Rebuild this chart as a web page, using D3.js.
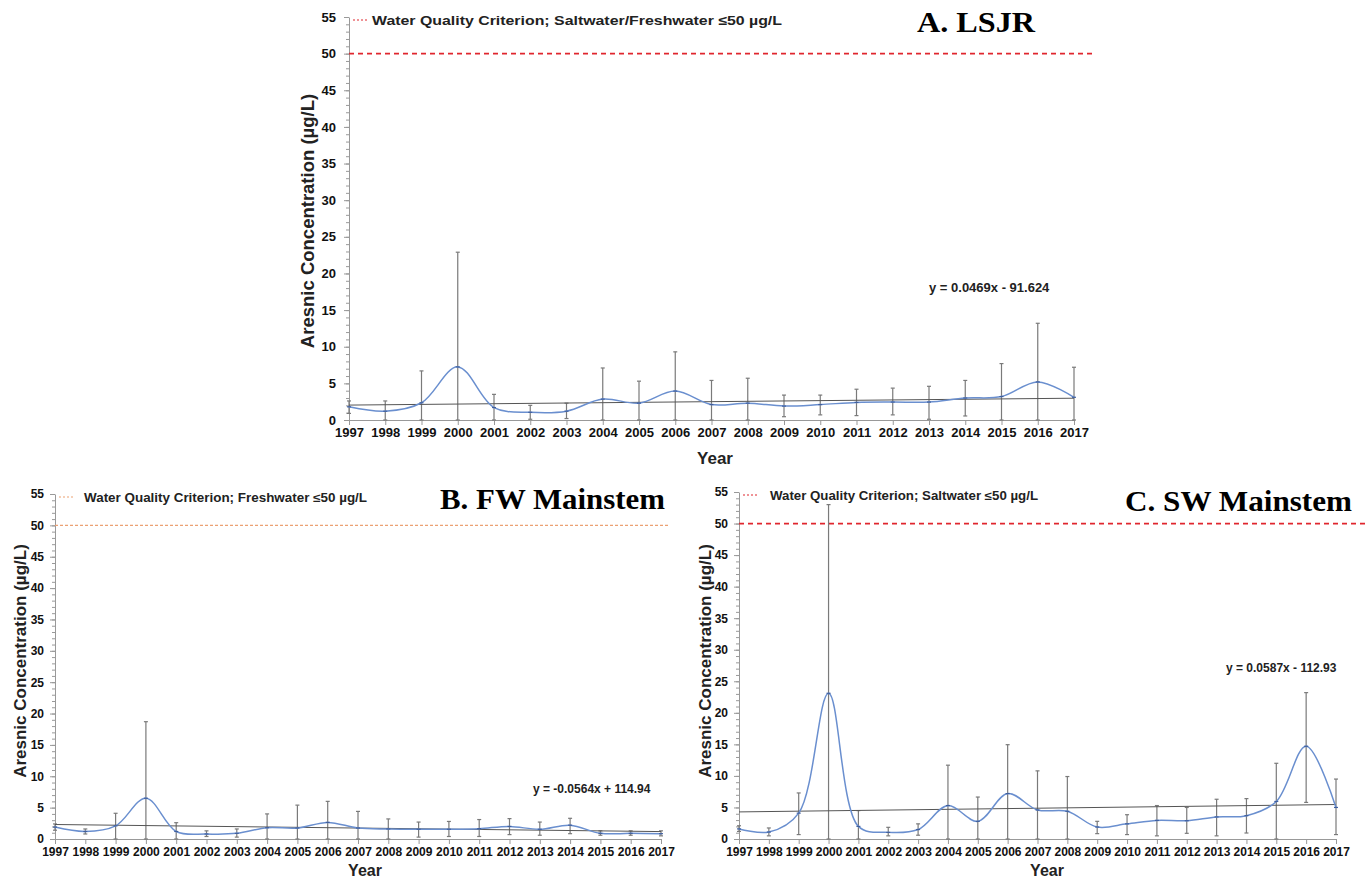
<!DOCTYPE html>
<html>
<head>
<meta charset="utf-8">
<script src="https://cdn.jsdelivr.net/npm/d3@7"></script>
<style>
  html, body { margin: 0; padding: 0; background: #fff; }
  svg { display: block; }
  .tick text { font-family: "Liberation Sans", Arial, sans-serif; font-weight: bold; fill: #111; }
</style>
</head>
<body>
<svg id="chart" width="1372" height="882"></svg>
<script>
// Sampling years
const years = d3.range(1997, 2018);
const yTicks = [0, 5, 10, 15, 20, 25, 30, 35, 40, 45, 50, 55];

// A. LSJR annual means and error-bar limits (µg/L)
const lsjrMean = [1.8, 1.2, 2.35, 7.25, 1.7, 1.05, 1.2, 2.85, 2.3, 3.95, 2.1, 2.3, 1.9, 2.1, 2.4, 2.45, 2.45, 3.0, 3.2, 5.2, 3.1];
const lsjrHigh = [2.6, 2.6, 6.7, 22.9, 3.5, 2.0, 2.3, 7.1, 5.3, 9.3, 5.4, 5.7, 3.4, 3.4, 4.2, 4.35, 4.6, 5.4, 7.7, 13.2, 7.2];
const lsjrLow  = [0.9, 0.0, 0.0, 0.0, 0.0, 0.1, 0.2, 0.0, 0.0, 0.0, 0.0, 0.0, 0.45, 0.7, 0.6, 0.7, 0.1, 0.55, 0.0, 0.0, 0.0];
const lsjrTrend = { slope: 0.0469, intercept: -91.624, label: "y = 0.0469x - 91.624" };

// B. Freshwater mainstem
const fwMean = [1.9, 1.2, 2.1, 6.5, 1.2, 0.8, 0.9, 1.8, 1.75, 2.65, 1.75, 1.6, 1.55, 1.55, 1.65, 2.0, 1.55, 2.2, 0.9, 0.9, 0.85];
const fwHigh = [2.4, 1.6, 4.1, 18.7, 2.6, 1.3, 1.6, 4.0, 5.4, 6.0, 4.4, 3.2, 2.7, 2.8, 3.1, 3.25, 2.7, 3.3, 1.3, 1.3, 1.3];
const fwLow  = [1.4, 0.8, 0.0, 0.0, 0.0, 0.4, 0.3, 0.0, 0.0, 0.0, 0.0, 0.0, 0.3, 0.4, 0.4, 0.7, 0.6, 0.85, 0.6, 0.6, 0.5];
const fwTrend = { slope: -0.0564, intercept: 114.94, label: "y = -0.0564x + 114.94" };

// C. Saltwater mainstem
const swMean = [1.6, 1.1, 4.1, 23.1, 2.0, 1.05, 1.5, 5.3, 2.8, 7.2, 4.6, 4.4, 1.9, 2.4, 2.95, 2.9, 3.5, 3.7, 5.95, 14.7, 5.0];
const swHigh = [2.1, 1.75, 7.3, 53.0, 4.5, 1.85, 2.4, 11.7, 6.65, 14.95, 10.8, 9.9, 2.8, 3.85, 5.3, 5.0, 6.3, 6.4, 12.0, 23.2, 9.5];
const swLow  = [1.2, 0.5, 0.7, 0.0, 0.0, 0.5, 0.6, 0.0, 0.0, 0.0, 0.0, 0.0, 0.85, 0.7, 0.5, 0.9, 0.5, 0.95, 0.0, 5.8, 0.7];
const swTrend = { slope: 0.0587, intercept: -112.93, label: "y = 0.0587x - 112.93" };

const criterion = 50;

const svg = d3.select("#chart");
const sans = "'Liberation Sans', Arial, sans-serif";
const serif = "'Liberation Serif', 'Times New Roman', serif";

function drawPanel(p) {
  const g = svg.append("g");
  const x = d3.scaleLinear().domain([1997, 2017]).range([p.x0, p.x1]);
  const y = d3.scaleLinear().domain([0, 55]).range([p.yBottom, p.yTop]);

  // y axis with minor ticks every 1 µg/L
  const yMinor = g.append("g").attr("transform", `translate(${p.x0},0)`)
    .call(d3.axisLeft(y).tickValues(d3.range(0, 56, 1)).tickSize(3).tickFormat(""));
  yMinor.select(".domain").remove();
  yMinor.selectAll("line").attr("stroke", "#999");

  const yAx = g.append("g").attr("transform", `translate(${p.x0},0)`)
    .call(d3.axisLeft(y).tickValues(yTicks).tickSize(5).tickPadding(p.tickPad).tickSizeOuter(0));
  yAx.select(".domain").attr("stroke", "#999");
  yAx.selectAll("line").attr("stroke", "#999");
  yAx.selectAll("text").style("font-size", p.tickFont + "px");

  // x axis
  const xAx = g.append("g").attr("transform", `translate(0,${p.yBottom})`)
    .call(d3.axisBottom(x).tickValues(years).tickFormat(d3.format("d")).tickSize(5).tickPadding(3).tickSizeOuter(0));
  xAx.select(".domain").attr("stroke", "#999");
  xAx.selectAll("line").attr("stroke", "#999");
  xAx.selectAll("text").style("font-size", p.tickFont + "px");

  // criterion line
  g.append("line")
    .attr("x1", p.x0).attr("x2", p.critEnd)
    .attr("y1", y(criterion)).attr("y2", y(criterion))
    .attr("stroke", p.critColor).attr("stroke-width", p.critWidth)
    .attr("stroke-dasharray", p.critDash);

  // legend
  const ly = y(55) + 3;
  g.append("line")
    .attr("x1", p.x0 + 4).attr("x2", p.x0 + 18)
    .attr("y1", ly).attr("y2", ly)
    .attr("stroke", p.critColor).attr("stroke-width", 1.2)
    .attr("stroke-dasharray", "2,2");
  g.append("text")
    .attr("x", p.x0 + p.legendDx).attr("y", ly + 4.5)
    .attr("font-family", sans).attr("font-weight", "bold")
    .attr("font-size", p.legendFont).attr("fill", "#222")
    .attr("textLength", p.legendLen).attr("lengthAdjust", "spacingAndGlyphs")
    .text(p.legend);

  // panel title
  g.append("text")
    .attr("x", p.titleX).attr("y", p.titleY)
    .attr("font-family", serif).attr("font-weight", "bold")
    .attr("font-size", p.titleFont).attr("fill", "#000")
    .attr("textLength", p.titleLen).attr("lengthAdjust", "spacingAndGlyphs")
    .text(p.title);

  // axis titles
  g.append("text")
    .attr("transform", `translate(${p.yLabelX},${p.yLabelY}) rotate(-90)`)
    .attr("text-anchor", "middle")
    .attr("font-family", sans).attr("font-weight", "bold")
    .attr("font-size", p.yLabelFont).attr("fill", "#222")
    .text("Aresnic Concentration (µg/L)");
  g.append("text")
    .attr("x", p.xLabelX).attr("y", p.xLabelY)
    .attr("text-anchor", "middle")
    .attr("font-family", sans).attr("font-weight", "bold")
    .attr("font-size", p.labelFont).attr("fill", "#222")
    .text("Year");

  // error bars
  const eb = g.append("g").attr("stroke", "#7a7a7a").attr("stroke-width", 1.2);
  years.forEach((yr, i) => {
    const cx = x(yr);
    eb.append("line").attr("x1", cx).attr("x2", cx)
      .attr("y1", y(p.high[i])).attr("y2", y(p.low[i]));
    eb.append("line").attr("x1", cx - 2).attr("x2", cx + 2)
      .attr("y1", y(p.high[i])).attr("y2", y(p.high[i]));
    eb.append("line").attr("x1", cx - 2).attr("x2", cx + 2)
      .attr("y1", y(p.low[i])).attr("y2", y(p.low[i]));
  });

  // linear trend
  g.append("line")
    .attr("x1", x(1997)).attr("x2", x(2017))
    .attr("y1", y(p.trend.slope * 1997 + p.trend.intercept))
    .attr("y2", y(p.trend.slope * 2017 + p.trend.intercept))
    .attr("stroke", "#555").attr("stroke-width", 1);

  // smoothed mean line
  const line = d3.line()
    .x((d, i) => x(years[i]))
    .y(d => y(d))
    .curve(d3.curveCatmullRom.alpha(0.5));
  g.append("path").datum(p.mean)
    .attr("d", line)
    .attr("fill", "none").attr("stroke", "#6a8fcf").attr("stroke-width", 1.5);

  // point markers
  g.append("g").selectAll("line").data(p.mean).join("line")
    .attr("x1", (d, i) => x(years[i]) - 2).attr("x2", (d, i) => x(years[i]) + 2)
    .attr("y1", d => y(d)).attr("y2", d => y(d))
    .attr("stroke", "#3f5f9f").attr("stroke-width", 1.2);

  // trend equation
  g.append("text")
    .attr("x", p.eqX).attr("y", p.eqY)
    .attr("font-family", sans).attr("font-weight", "bold")
    .attr("font-size", p.eqFont).attr("fill", "#222")
    .text(p.trend.label);
}

drawPanel({
  x0: 349, x1: 1074, yTop: 17, yBottom: 420, critEnd: 1096,
  critColor: "#e0262e", critWidth: 1.8, critDash: "5,4",
  tickFont: 13, tickPad: 8,
  legend: "Water Quality Criterion; Saltwater/Freshwater ≤50 µg/L", legendDx: 23, legendFont: 13, legendLen: 410,
  title: "A.  LSJR", titleX: 917, titleY: 32, titleFont: 30, titleLen: 118,
  yLabelX: 314, yLabelY: 221, yLabelFont: 18.5,
  xLabelX: 715, xLabelY: 464, labelFont: 17,
  mean: lsjrMean, high: lsjrHigh, low: lsjrLow, trend: lsjrTrend,
  eqX: 929, eqY: 292, eqFont: 13
});

drawPanel({
  x0: 55, x1: 661, yTop: 494, yBottom: 839, critEnd: 668,
  critColor: "#eba173", critWidth: 1.3, critDash: "3,2",
  tickFont: 12, tickPad: 6,
  legend: "Water Quality Criterion; Freshwater ≤50 µg/L", legendDx: 29, legendFont: 12, legendLen: 283,
  title: "B.  FW Mainstem", titleX: 440, titleY: 509, titleFont: 30, titleLen: 225,
  yLabelX: 26, yLabelY: 661, yLabelFont: 17,
  xLabelX: 365, xLabelY: 876, labelFont: 16,
  mean: fwMean, high: fwHigh, low: fwLow, trend: fwTrend,
  eqX: 533, eqY: 793, eqFont: 12
});

drawPanel({
  x0: 739, x1: 1336, yTop: 492, yBottom: 839, critEnd: 1368,
  critColor: "#e0262e", critWidth: 1.8, critDash: "5,4",
  tickFont: 12, tickPad: 6,
  legend: "Water Quality Criterion; Saltwater ≤50 µg/L", legendDx: 31, legendFont: 12, legendLen: 268,
  title: "C.  SW Mainstem", titleX: 1125, titleY: 511, titleFont: 30, titleLen: 227,
  yLabelX: 711, yLabelY: 661, yLabelFont: 17,
  xLabelX: 1047, xLabelY: 876, labelFont: 16,
  mean: swMean, high: swHigh, low: swLow, trend: swTrend,
  eqX: 1226, eqY: 672, eqFont: 12
});
</script>
</body>
</html>
